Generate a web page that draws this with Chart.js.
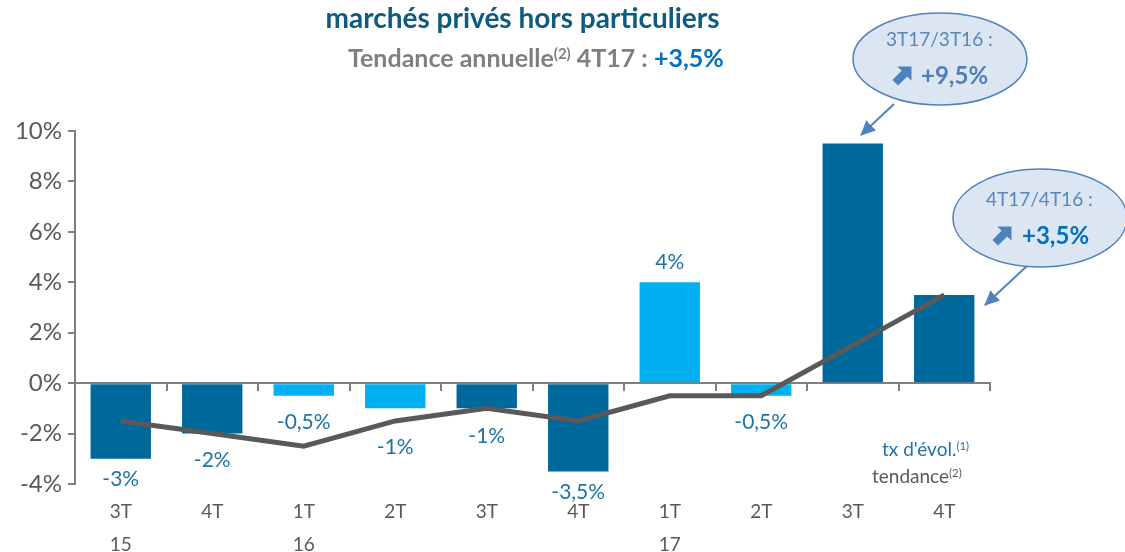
<!DOCTYPE html>
<html><head><meta charset="utf-8">
<script src="https://cdn.jsdelivr.net/npm/chart.js@4"></script>
<style>
html,body{margin:0;padding:0;background:#fff;}
#wrap{position:relative;width:1125px;height:552px;overflow:hidden;font-family:Lato,"Open Sans",sans-serif;}
canvas{position:absolute;left:0;top:0;}
.t{position:absolute;white-space:nowrap;line-height:1.2;}
sup{font-size:0.6em;vertical-align:0.55em;line-height:0;}
svg{position:absolute;left:0;top:0;}
</style></head>
<body><div id="wrap">
<canvas id="c" width="1125" height="552"></canvas>
<svg width="1125" height="552">
 <defs><marker id="ah" markerWidth="16" markerHeight="14" refX="14" refY="7" orient="auto" markerUnits="userSpaceOnUse"><path d="M0,0 L15,7 L0,14 z" fill="#4F81BD"/></marker></defs>
 <line x1="894" y1="104" x2="861" y2="135" stroke="#4F81BD" stroke-width="2" marker-end="url(#ah)"/>
 <line x1="1027" y1="266" x2="985" y2="305" stroke="#4F81BD" stroke-width="2" marker-end="url(#ah)"/>
 <ellipse cx="940" cy="59" rx="87" ry="46" fill="#DCE6F2" stroke="#4F81BD" stroke-width="1.5"/>
 <ellipse cx="1040" cy="218" rx="87" ry="49" fill="#DCE6F2" stroke="#4F81BD" stroke-width="1.5"/>
 <g transform="translate(903,75) rotate(-45)" fill="#4F81BD"><path d="M-11,-4 L2,-4 L2,-10 L12,0 L2,10 L2,4 L-11,4 z"/></g>
 <g transform="translate(1003,235) rotate(-45)" fill="#4F81BD"><path d="M-11,-4 L2,-4 L2,-10 L12,0 L2,10 L2,4 L-11,4 z"/></g>
</svg>
<div class="t" style="left:0;width:1045px;text-align:center;top:1px;font-size:28px;font-weight:bold;color:#0F5A80;">marchés privés hors particuliers</div>
<div class="t" style="left:348px;top:42px;font-size:25px;font-weight:bold;color:#7F7F7F;">Tendance annuelle<sup>(2)</sup> 4T17 : <span style="color:#0070C0">+3,5%</span></div>
<div class="t" style="left:886px;top:28px;font-size:19px;color:#5B84B8;">3T17/3T16 :</div>
<div class="t" style="left:921px;top:61px;font-size:24px;font-weight:bold;color:#4F7FB8;">+9,5%</div>
<div class="t" style="left:986px;top:188px;font-size:19px;color:#5B84B8;">4T17/4T16 :</div>
<div class="t" style="left:1022px;top:221px;font-size:24px;font-weight:bold;color:#0070C0;">+3,5%</div>
<div class="t" style="left:882px;top:438px;font-size:19px;color:#1F73A3;">tx d'évol.<sup>(1)</sup></div>
<div class="t" style="left:872px;top:465px;font-size:19px;color:#595959;">tendance<sup>(2)</sup></div>
</div>
<script>
const categories = [["3T","15"],["4T"],["1T","16"],["2T"],["3T"],["4T"],["1T","17"],["2T"],["3T"],["4T"]];
const evolution = [-3, -2, -0.5, -1, -1, -3.5, 4, -0.5, 9.5, 3.5];
const tendance = [-1.5, -2, -2.5, -1.5, -1, -1.5, -0.5, -0.5, 1.5, 3.5];
const barShade = ["dark","dark","light","light","dark","dark","light","light","dark","dark"];
const showLabel = [true,true,true,true,true,true,true,true,false,false];
const labelGap = [20,27,26,39,28,21,-20,26];
const yTicks = [-4,-2,0,2,4,6,8,10];

const shadeColor = {dark:"#00699B", light:"#00B0F0"};

const labelPlugin = {
  id:'barLabels',
  afterDatasetsDraw(chart){
    const ctx = chart.ctx;
    const meta = chart.getDatasetMeta(1);
    ctx.save();
    ctx.font = '21px Lato, "Open Sans", sans-serif';
    ctx.fillStyle = '#1F73A3';
    ctx.textAlign = 'center';
    ctx.textBaseline = 'middle';
    meta.data.forEach((bar,i)=>{
      if(!showLabel[i]) return;
      const v = evolution[i];
      const txt = String(v).replace('.',',') + '%';
      ctx.fillText(txt, bar.x, bar.y + labelGap[i]);
    });
    ctx.restore();
  }
};

new Chart(document.getElementById('c'), {
  data:{
    labels: categories,
    datasets:[
      {type:'line', label:'tendance', data:tendance, borderColor:'#595959', borderWidth:5, pointRadius:0, tension:0, order:0, borderJoinStyle:'miter'},
      {type:'bar', label:"tx d'évol.", data:evolution, backgroundColor:barShade.map(s=>shadeColor[s]), barPercentage:0.66, categoryPercentage:1, order:1}
    ]
  },
  options:{
    responsive:false, animation:false,
    layout:{padding:{left:0,right:135,top:131,bottom:0}},
    plugins:{legend:{display:false}, tooltip:{enabled:false}},
    scales:{
      x:{
        position:'bottom',
        grid:{display:false}, border:{display:false},
        ticks:{color:'#595959', font:{size:19, family:'"Liberation Sans Narrow", Lato, sans-serif', lineHeight:1.75}, padding:3, maxRotation:0, autoSkip:false},
        afterFit(s){ s.height = 68; }
      },
      x2:{
        type:'category', labels:categories, position:{y:0}, offset:true,
        grid:{offset:true, drawOnChartArea:false, tickLength:7, color:'#7F7F7F', lineWidth:2},
        border:{color:'#7F7F7F', width:2},
        ticks:{display:false}
      },
      y:{
        min:-4, max:10,
        afterBuildTicks(s){ s.ticks = yTicks.map(v=>({value:v})); },
        grid:{drawOnChartArea:false, tickLength:7, color:'#7F7F7F', lineWidth:2},
        border:{color:'#7F7F7F', width:2},
        ticks:{color:'#595959', font:{size:24, family:'Lato, "Open Sans", sans-serif'}, padding:6, callback:v=>v+'%'},
        afterFit(s){ s.width = 75; }
      }
    }
  },
  plugins:[labelPlugin]
});
</script>
</body></html>
